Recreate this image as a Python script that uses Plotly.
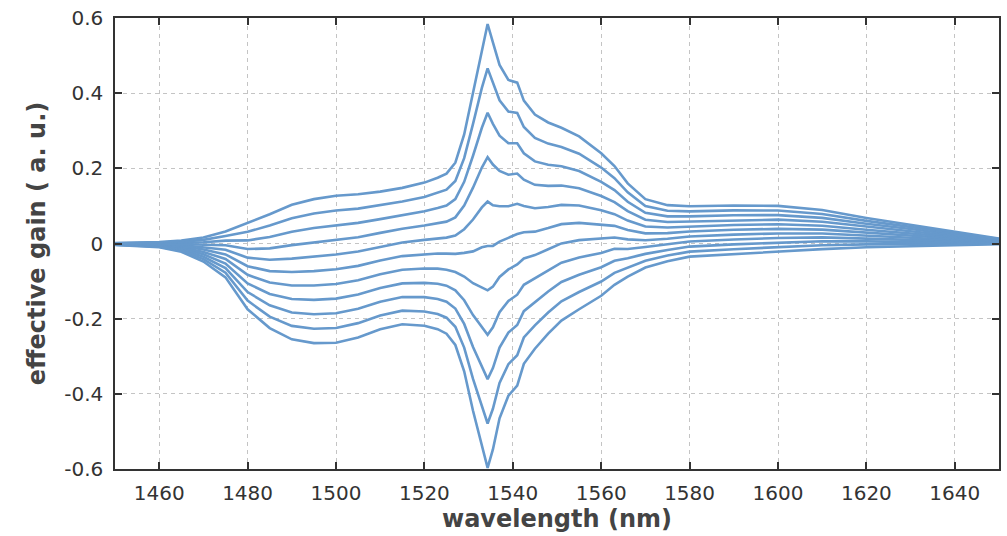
import plotly.graph_objects as go

# wavelength samples (nm)
wavelength = [1450, 1455, 1460, 1465, 1470, 1475, 1480, 1485, 1490, 1495,
              1500, 1505, 1510, 1515, 1520, 1523, 1525, 1527, 1529, 1531,
              1533, 1534.3, 1535.5, 1537, 1539, 1541, 1542.5, 1545, 1548, 1551,
              1555, 1560, 1563, 1566, 1570, 1575, 1580, 1590, 1600, 1610,
              1620, 1630, 1640, 1650]

# effective gain curves for excitation levels 0 ... 1 (step 0.1)
gain_00 = [-0.004, -0.006, -0.010, -0.022, -0.048, -0.090, -0.175, -0.225, -0.255, -0.265,
           -0.264, -0.250, -0.228, -0.215, -0.219, -0.228, -0.240, -0.270, -0.340, -0.445,
           -0.540, -0.597, -0.548, -0.465, -0.405, -0.378, -0.320, -0.280, -0.240, -0.205,
           -0.175, -0.139, -0.110, -0.088, -0.064, -0.047, -0.035, -0.028, -0.022, -0.015,
           -0.010, -0.007, -0.004, -0.002]
gain_01 = [-0.0035, -0.0052, -0.0086, -0.019, -0.0416, -0.0778, -0.1521, -0.1947, -0.2192, -0.2267,
           -0.2249, -0.2119, -0.1914, -0.1787, -0.1809, -0.1877, -0.1974, -0.2215, -0.277, -0.3602,
           -0.434, -0.4789, -0.4397, -0.371, -0.321, -0.2974, -0.250, -0.2177, -0.1838, -0.1537,
           -0.129, -0.1011, -0.078, -0.0635, -0.0458, -0.0321, -0.0216, -0.0151, -0.0098, -0.0046,
           -0.0022, -0.0013, -0.0006, -0.0005]
gain_02 = [-0.003, -0.0044, -0.0072, -0.016, -0.0352, -0.0656, -0.1292, -0.1644, -0.1834, -0.1884,
           -0.1858, -0.1738, -0.1548, -0.1424, -0.1428, -0.1474, -0.1548, -0.173, -0.214, -0.2754,
           -0.328, -0.3608, -0.3314, -0.277, -0.237, -0.2168, -0.180, -0.1554, -0.1276, -0.1024,
           -0.083, -0.0632, -0.046, -0.039, -0.0276, -0.0172, -0.0082, -0.0022, 0.0024, 0.0058,
           0.0056, 0.0044, 0.0028, 0.001]
gain_03 = [-0.0025, -0.0036, -0.0058, -0.013, -0.0288, -0.0534, -0.1063, -0.1341, -0.1476, -0.1501,
           -0.1467, -0.1357, -0.1182, -0.1061, -0.1047, -0.1071, -0.1122, -0.1245, -0.151, -0.1906,
           -0.222, -0.2427, -0.2231, -0.183, -0.153, -0.1362, -0.110, -0.0931, -0.0714, -0.0511,
           -0.037, -0.0253, -0.014, -0.0145, -0.0094, -0.0023, 0.0052, 0.0107, 0.0146, 0.0162,
           0.0134, 0.0101, 0.0062, 0.0025]
gain_04 = [-0.002, -0.0028, -0.0044, -0.010, -0.0224, -0.0412, -0.0834, -0.1038, -0.1118, -0.1118,
           -0.1076, -0.0976, -0.0816, -0.0698, -0.0666, -0.0668, -0.0696, -0.076, -0.088, -0.1058,
           -0.116, -0.1246, -0.1148, -0.089, -0.069, -0.0556, -0.040, -0.0308, -0.0152, 0.0002,
           0.009, 0.0126, 0.016, 0.011, 0.0088, 0.0126, 0.0186, 0.0236, 0.0268, 0.0266,
           0.0212, 0.0158, 0.0096, 0.004]
gain_05 = [-0.0015, -0.002, -0.003, -0.007, -0.016, -0.029, -0.0605, -0.0735, -0.076, -0.0735,
           -0.0685, -0.0595, -0.045, -0.0335, -0.0285, -0.0265, -0.027, -0.0275, -0.025, -0.021,
           -0.010, -0.0065, -0.0065, 0.005, 0.015, 0.025, 0.030, 0.0315, 0.041, 0.0515,
           0.055, 0.0505, 0.047, 0.036, 0.027, 0.0275, 0.032, 0.0365, 0.039, 0.037,
           0.029, 0.0215, 0.013, 0.0055]
gain_06 = [-0.001, -0.0012, -0.0016, -0.004, -0.0096, -0.0168, -0.0376, -0.0432, -0.0402, -0.0352,
           -0.0294, -0.0214, -0.0084, 0.0028, 0.0096, 0.0138, 0.0156, 0.021, 0.038, 0.0638,
           0.096, 0.1116, 0.1018, 0.099, 0.099, 0.1056, 0.100, 0.0938, 0.0972, 0.1028,
           0.101, 0.0884, 0.078, 0.061, 0.0452, 0.0424, 0.0454, 0.0494, 0.0512, 0.0474,
           0.0368, 0.0272, 0.0164, 0.007]
gain_07 = [-0.0005, -0.0004, -0.0002, -0.001, -0.0032, -0.0046, -0.0147, -0.0129, -0.0044, 0.0031,
           0.0097, 0.0167, 0.0282, 0.0391, 0.0477, 0.0541, 0.0582, 0.0695, 0.101, 0.1486,
           0.202, 0.2297, 0.2101, 0.193, 0.183, 0.1862, 0.170, 0.1561, 0.1534, 0.1541,
           0.147, 0.1263, 0.110, 0.086, 0.0634, 0.0573, 0.0588, 0.0623, 0.0634, 0.0578,
           0.0446, 0.0329, 0.0198, 0.0085]
gain_08 = [0.000, 0.0004, 0.0012, 0.002, 0.0032, 0.0076, 0.0082, 0.0174, 0.0314, 0.0414,
           0.0488, 0.0548, 0.0648, 0.0754, 0.0858, 0.0944, 0.1008, 0.118, 0.164, 0.2334,
           0.308, 0.3478, 0.3184, 0.287, 0.267, 0.2668, 0.240, 0.2184, 0.2096, 0.2054,
           0.193, 0.1642, 0.142, 0.111, 0.0816, 0.0722, 0.0722, 0.0752, 0.0756, 0.0682,
           0.0524, 0.0386, 0.0232, 0.010]
gain_09 = [0.0005, 0.0012, 0.0026, 0.005, 0.0096, 0.0198, 0.0311, 0.0477, 0.0672, 0.0797,
           0.0879, 0.0929, 0.1014, 0.1117, 0.1239, 0.1347, 0.1434, 0.1665, 0.227, 0.3182,
           0.414, 0.4659, 0.4267, 0.381, 0.351, 0.3474, 0.310, 0.2807, 0.2658, 0.2567,
           0.239, 0.2021, 0.174, 0.136, 0.0998, 0.0871, 0.0856, 0.0881, 0.0878, 0.0786,
           0.0602, 0.0443, 0.0266, 0.0115]
gain_10 = [0.001, 0.002, 0.004, 0.008, 0.016, 0.032, 0.054, 0.078, 0.103, 0.118,
           0.127, 0.131, 0.138, 0.148, 0.162, 0.175, 0.186, 0.215, 0.290, 0.403,
           0.520, 0.584, 0.535, 0.475, 0.435, 0.428, 0.380, 0.343, 0.322, 0.308,
           0.285, 0.240, 0.206, 0.160, 0.118, 0.102, 0.099, 0.101, 0.100, 0.089,
           0.068, 0.050, 0.030, 0.013]

curves = [gain_00, gain_01, gain_02, gain_03, gain_04, gain_05,
          gain_06, gain_07, gain_08, gain_09, gain_10]

x_tick_vals = [1460, 1480, 1500, 1520, 1540, 1560, 1580, 1600, 1620, 1640]
x_tick_text = ["1460", "1480", "1500", "1520", "1540", "1560", "1580", "1600", "1620", "1640"]
y_tick_vals = [-0.6, -0.4, -0.2, 0, 0.2, 0.4, 0.6]
y_tick_text = ["-0.6", "-0.4", "-0.2", "0", "0.2", "0.4", "0.6"]

LINE_COLOR = "#6699cc"
AXIS_COLOR = "#333333"
GRID_COLOR = "#c4c4c4"
TEXT_COLOR = "#333333"
TITLE_COLOR = "#444444"
FONT = "DejaVu Sans, Verdana, sans-serif"

fig = go.Figure()
for c in curves:
    fig.add_trace(go.Scatter(
        x=wavelength, y=c, mode="lines",
        line=dict(color=LINE_COLOR, width=2.6),
        showlegend=False, hoverinfo="skip",
    ))

axis_common = dict(
    showline=True, linecolor=AXIS_COLOR, linewidth=1.5, mirror="ticks",
    ticks="inside", ticklen=7, tickwidth=1.5, tickcolor=AXIS_COLOR,
    showgrid=True, gridcolor=GRID_COLOR, gridwidth=1, griddash="4px,4px",
    zeroline=False,
    tickfont=dict(family=FONT, size=20, color=TEXT_COLOR),
)

fig.update_layout(
    width=1007, height=536,
    margin=dict(l=115, r=6, t=16, b=67),
    paper_bgcolor="white", plot_bgcolor="white",
    xaxis=dict(
        range=[1450, 1650], tickmode="array",
        tickvals=x_tick_vals, ticktext=x_tick_text,
        title=dict(text="<b>wavelength (nm)</b>", standoff=6,
                   font=dict(family=FONT, size=24, color=TITLE_COLOR)),
        ticklabelstandoff=5,
        **axis_common,
    ),
    yaxis=dict(
        range=[-0.6, 0.6], tickmode="array",
        tickvals=y_tick_vals, ticktext=y_tick_text,
        title=dict(text="<b>effective gain ( a. u.)</b>", standoff=12,
                   font=dict(family=FONT, size=24, color=TITLE_COLOR)),
        ticklabelstandoff=6,
        **axis_common,
    ),
)

# remove the default page margin so the figure fills the window exactly
fig.write_html("out.html", config={"displayModeBar": False},
               post_script="document.body.style.margin='0';")
